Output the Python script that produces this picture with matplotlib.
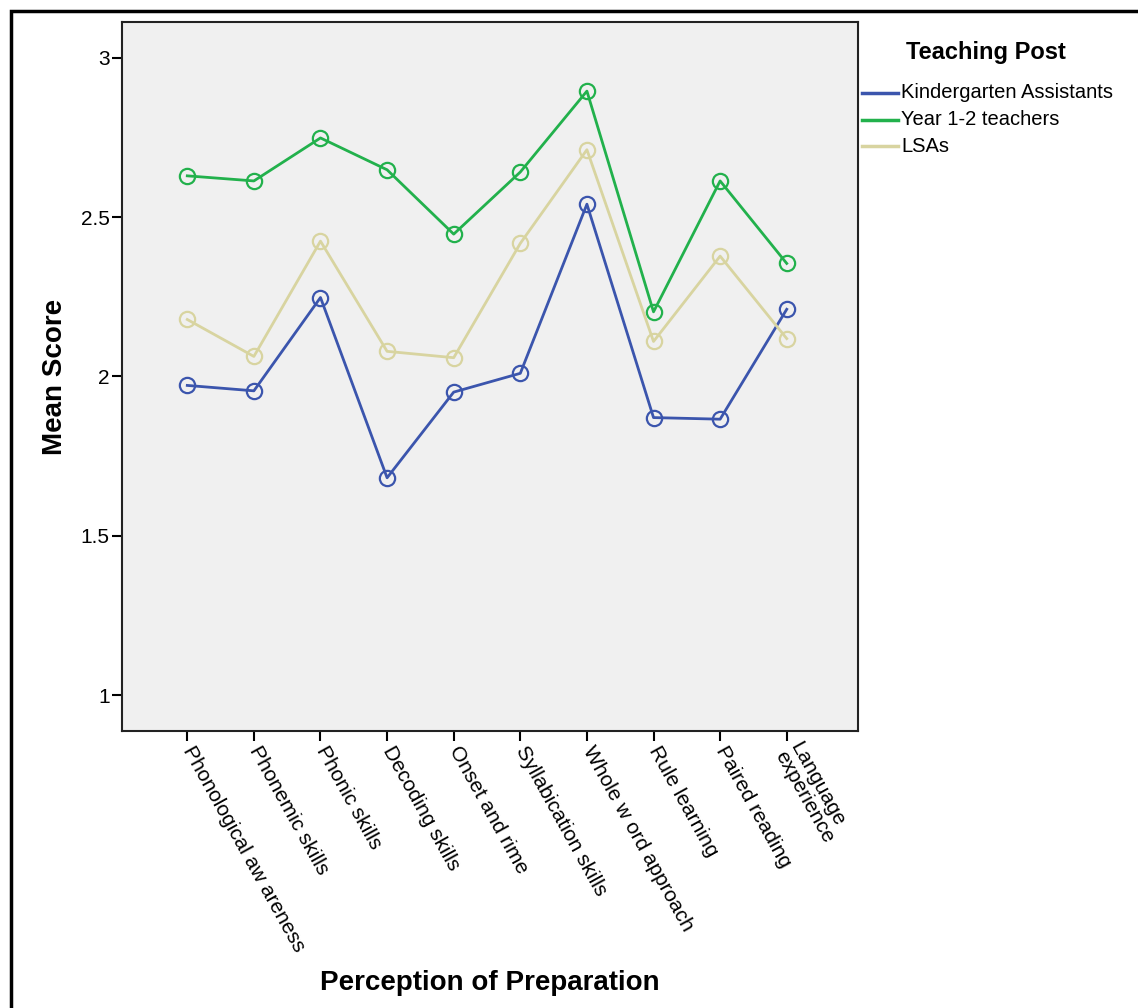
import matplotlib.pyplot as plt
from matplotlib.patches import Rectangle
from matplotlib.lines import Line2D

plt.rcParams['font.family'] = ['Liberation Sans', 'DejaVu Sans']

categories = ["Phonological aw areness", "Phonemic skills", "Phonic skills",
              "Decoding skills", "Onset and rime", "Syllabication skills",
              "Whole w ord approach", "Rule learning", "Paired reading",
              "Language\nexperience"]

kindergarten = [1.972, 1.955, 2.248, 1.682, 1.951, 2.010, 2.541, 1.871, 1.866, 2.211]
year12 = [2.630, 2.614, 2.749, 2.649, 2.447, 2.642, 2.896, 2.203, 2.614, 2.355]
lsas = [2.179, 2.063, 2.425, 2.079, 2.059, 2.418, 2.712, 2.110, 2.378, 2.119]

series_names = ["Kindergarten Assistants", "Year 1-2 teachers", "LSAs"]
colors = ["#3b55ad", "#22b14c", "#d8d4a0"]

W, H = 1138, 1008
fig = plt.figure(figsize=(W / 100, H / 100), dpi=100)
ax = fig.add_axes([122 / W, 1 - 731 / H, (858 - 122) / W, (731 - 22) / H])
ax.set_facecolor("#f0f0f0")

x = list(range(len(categories)))
for vals, c in zip([kindergarten, year12, lsas], colors):
    ax.plot(x, vals, color=c, lw=2, marker="o", ms=11, mfc="none", mew=1.6, zorder=3)

ax.set_xlim(-0.98, 10.07)
ax.set_ylim(0.887, 3.113)
ax.set_yticks([1, 1.5, 2, 2.5, 3])
ax.set_yticklabels(["1", "1.5", "2", "2.5", "3"], fontsize=15)
ax.set_xticks(x)
ax.set_xticklabels(categories, fontsize=15, rotation=-61, rotation_mode="anchor",
                   ha="left", va="center", linespacing=0.9)
ax.tick_params(axis="both", direction="out", length=7, width=1.5, color="black")
ax.tick_params(axis="x", pad=5)
ax.tick_params(axis="y", pad=2)
for s in ax.spines.values():
    s.set_linewidth(1.5)
    s.set_color("#222222")

fig.text(55 / W, 1 - 377 / H, "Mean Score", fontsize=20, fontweight="bold",
         rotation=90, ha="center", va="center")
fig.text(490 / W, 1 - 983 / H, "Perception of Preparation", fontsize=20,
         fontweight="bold", ha="center", va="center")

# legend, drawn by hand to match the layout
fig.text(986 / W, 1 - 53 / H, "Teaching Post", fontsize=17, fontweight="bold",
         ha="center", va="center")
for i, (name, c) in enumerate(zip(series_names, colors)):
    yy = 1 - (93 + 26.5 * i) / H
    fig.add_artist(Line2D([862 / W, 898 / W], [yy, yy], color=c, lw=2.5,
                          transform=fig.transFigure))
    fig.text(901 / W, yy, name, fontsize=14.5, ha="left", va="center")

fig.patches.append(Rectangle((11 / W, -0.1), 1.2, 1 - 11 / H + 0.1,
                             transform=fig.transFigure, fill=False,
                             edgecolor="black", lw=2.5, clip_on=False))

fig.savefig("out.png", dpi=100)
